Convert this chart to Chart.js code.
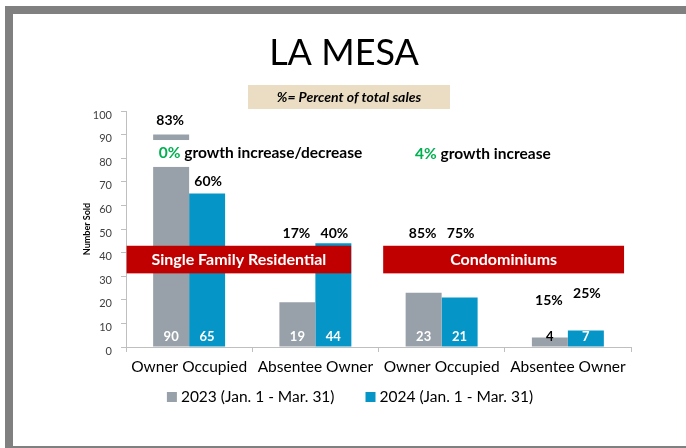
<!DOCTYPE html>
<html lang="en">
<head>
<meta charset="UTF-8" />
<title>La Mesa sales</title>
<script src="https://cdn.jsdelivr.net/npm/chart.js"></script>
<style>
  html, body { margin: 0; padding: 0; background: #fff; }
  canvas { display: block; }
</style>
</head>
<body>
<canvas id="myChart" width="686" height="448"></canvas>
<script>
// data
const categories = ["Owner Occupied", "Absentee Owner", "Owner Occupied", "Absentee Owner"];
const sold2023 = [90, 19, 23, 4];
const sold2024 = [65, 44, 21, 7];
const pct2023 = ["83%", "17%", "85%", "15%"];
const pct2024 = ["60%", "40%", "75%", "25%"];
const seriesNames = ["2023 (Jan. 1 - Mar. 31)", "2024 (Jan. 1 - Mar. 31)"];
const groupNames = ["Single Family Residential", "Condominiums"];
const growthPct = ["0%", "4%"];
const growthText = [" growth increase/decrease", " growth increase"];
const yTicks = [0, 10, 20, 30, 40, 50, 60, 70, 80, 90, 100];

// where the slide puts its notes (axis units)
const pctY2023 = [95.9, 48.3, 48.3, 19.6];
const pctY2024 = [70, 48.3, 48.3, 22.5];
const bannerSpan = [[-0.495, 1.283], [1.537, 3.445]];
const bannerY = [42.9, 31.2];
const maskY = [87.7, 76.3];
const growthPos = [[-0.24, 82.1], [1.79, 81.8]];

const GRAY = "#98A1A9";
const BLUE = "#0596C7";
const FONT = "Lato, 'Open Sans', sans-serif";

const slide = {
  id: "slide",
  beforeDraw(chart) {
    const ctx = chart.ctx;
    ctx.save();
    ctx.fillStyle = "#fff";
    ctx.fillRect(0, 0, chart.width, chart.height);
    // frame
    ctx.fillStyle = "#808080";
    ctx.fillRect(5, 6, chart.width - 5, 8);
    ctx.fillRect(5, 6, 8, chart.height - 6);
    ctx.fillRect(5, chart.height - 2, chart.width - 5, 2);
    // title
    ctx.fillStyle = "#000";
    ctx.textAlign = "center";
    ctx.textBaseline = "alphabetic";
    ctx.font = "36px " + FONT;
    ctx.fillText("LA MESA", 344, 65);
    // note box
    ctx.fillStyle = "#EADDC3";
    ctx.fillRect(248, 85, 202, 24);
    ctx.fillStyle = "#000";
    ctx.font = "italic bold 14px " + FONT;
    ctx.textBaseline = "middle";
    ctx.fillText("%= Percent of total sales", 349, 97);
    ctx.restore();
  },
  afterDatasetsDraw(chart) {
    const ctx = chart.ctx;
    const x = chart.scales.x, y = chart.scales.y;
    const m0 = chart.getDatasetMeta(0), m1 = chart.getDatasetMeta(1);
    ctx.save();

    // white patch behind the first growth note
    const b0 = m0.data[0];
    const ml = b0.x - b0.width / 2 - 2;
    ctx.fillStyle = "#fff";
    ctx.fillRect(ml, y.getPixelForValue(maskY[0]),
      x.getPixelForValue(1.43) - ml,
      y.getPixelForValue(maskY[1]) - y.getPixelForValue(maskY[0]));

    // growth notes
    ctx.textBaseline = "middle";
    ctx.textAlign = "left";
    ctx.font = "bold 15.5px " + FONT;
    growthPct.forEach((p, i) => {
      const px = x.getPixelForValue(growthPos[i][0]);
      const py = y.getPixelForValue(growthPos[i][1]);
      ctx.fillStyle = "#00B050";
      ctx.fillText(p, px, py);
      const w = ctx.measureText(p).width;
      ctx.fillStyle = "#000";
      ctx.fillText(growthText[i], px + w, py);
    });

    // red group banners
    groupNames.forEach((g, i) => {
      const l = x.getPixelForValue(bannerSpan[i][0]);
      const r = x.getPixelForValue(bannerSpan[i][1]);
      const t = y.getPixelForValue(bannerY[0]);
      const b = y.getPixelForValue(bannerY[1]);
      ctx.fillStyle = "#C00000";
      ctx.fillRect(l, t, r - l, b - t);
      ctx.fillStyle = "#fff";
      ctx.textAlign = "center";
      ctx.font = "bold 16px " + FONT;
      ctx.fillText(g, (l + r) / 2, (t + b) / 2);
    });

    // counts at the foot of each bar
    ctx.font = "bold 13px " + FONT;
    ctx.textAlign = "center";
    [m0, m1].forEach((meta, d) => {
      meta.data.forEach((bar, i) => {
        const v = chart.data.datasets[d].data[i];
        ctx.fillStyle = (bar.base - bar.y) < 12 ? "#000" : "#fff";
        ctx.fillText(String(v), bar.x, bar.base - 10);
      });
    });

    // percent of total sales
    ctx.font = "bold 14px " + FONT;
    ctx.fillStyle = "#000";
    m0.data.forEach((bar, i) => ctx.fillText(pct2023[i], bar.x - 1, y.getPixelForValue(pctY2023[i])));
    m1.data.forEach((bar, i) => ctx.fillText(pct2024[i], bar.x + 1, y.getPixelForValue(pctY2024[i])));

    // legend
    ctx.font = "15.5px " + FONT;
    ctx.textAlign = "left";
    const items = chart.data.datasets.map(ds => ({ label: ds.label, color: ds.backgroundColor }));
    const gap = 31, box = 10, tx = 4;
    const widths = items.map(it => box + tx + ctx.measureText(it.label).width);
    let lx = 350 - (widths.reduce((a, b) => a + b, 0) + gap) / 2;
    const ly = 397;
    items.forEach((it, i) => {
      ctx.fillStyle = it.color;
      ctx.fillRect(lx, ly - box / 2, box, box);
      ctx.fillStyle = "#000";
      ctx.fillText(it.label, lx + box + tx, ly);
      lx += widths[i] + gap;
    });
    ctx.restore();
  }
};

new Chart(document.getElementById("myChart"), {
  type: "bar",
  data: {
    labels: categories,
    datasets: [
      { label: seriesNames[0], data: sold2023, backgroundColor: GRAY },
      { label: seriesNames[1], data: sold2024, backgroundColor: BLUE }
    ]
  },
  options: {
    responsive: false,
    animation: false,
    categoryPercentage: 0.57,
    barPercentage: 1.0,
    layout: { padding: { left: 78, right: 55, top: 111, bottom: 71 } },
    plugins: { legend: { display: false }, tooltip: { enabled: false } },
    scales: {
      x: {
        afterFit: (s) => { s.height = 30; },
        grid: { drawOnChartArea: false, tickLength: 5, color: "#BFBFBF" },
        border: { color: "#BFBFBF" },
        ticks: { color: "#000", padding: 6, font: { family: FONT, size: 15.5 } }
      },
      y: {
        min: 0,
        max: 100,
        afterFit: (s) => { s.width = 48; },
        afterBuildTicks: (s) => { s.ticks = yTicks.map(v => ({ value: v })); },
        grid: { drawOnChartArea: false, tickLength: 5, color: "#BFBFBF" },
        border: { color: "#BFBFBF" },
        ticks: { color: "#404040", padding: 9, labelOffset: 4, font: { family: FONT, size: 11 } },
        title: { display: true, text: "Number Sold", color: "#000", font: { family: FONT, size: 9, weight: "bold" } }
      }
    }
  },
  plugins: [slide]
});
</script>
</body>
</html>
